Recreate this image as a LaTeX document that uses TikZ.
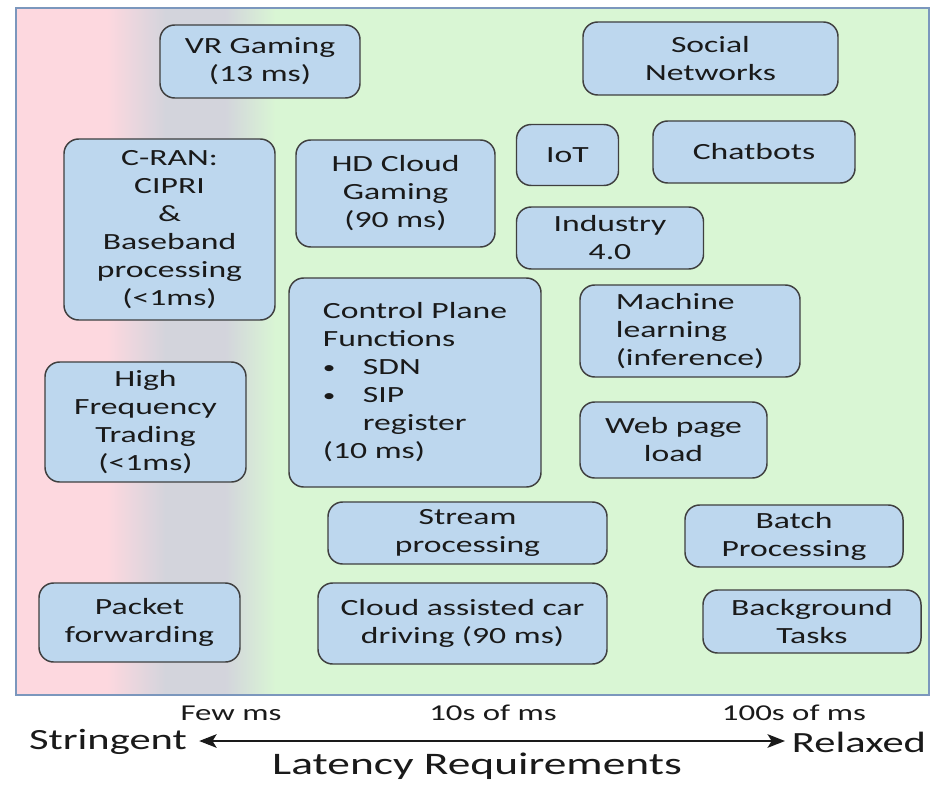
\documentclass[tikz,border=0pt]{standalone}
\usepackage{fontspec}
\setmainfont{Carlito}[FakeStretch=1.45]
\usetikzlibrary{arrows.meta}
\definecolor{pinkbg}{HTML}{FDD8DF}
\definecolor{graybg}{HTML}{D3D4DC}
\definecolor{greenbg}{HTML}{D9F6D4}
\definecolor{boxfill}{HTML}{BDD7EE}
\definecolor{boxline}{HTML}{3F3F3F}
\definecolor{framec}{HTML}{7B97BD}
\definecolor{inkc}{HTML}{1A1A1A}
\newcommand\bulletitem{\makebox[30pt][l]{\raisebox{1pt}{\scalebox{0.75}{•}}}}
\tikzset{
  box/.style={draw=boxline, fill=boxfill, line width=1.1pt, rounded corners=11pt,
    inner sep=0pt, align=center, text=inkc,
    font=\fontsize{17.4}{21}\selectfont},
  sz/.style 2 args={minimum width=#1*0.75pt, minimum height=#2*0.75pt},
  tick/.style={text=inkc, inner sep=0pt, font=\fontsize{17}{20}\selectfont},
  endlabel/.style={text=inkc, inner sep=0pt, font=\fontsize{22}{26}\selectfont},
  axisline/.style={line width=2.2pt, draw=inkc,
    {Stealth[length=13pt,width=10pt,inset=3pt]}-{Stealth[length=13pt,width=10pt,inset=3pt]}}
}
\begin{document}
\begin{tikzpicture}[x=0.75pt,y=-0.75pt]
\useasboundingbox (0,0) rectangle (930,784);
\fill[white] (0,0) rectangle (930,784);

% background bands: stringent (pink) to relaxed (green)
\fill[pinkbg] (16,8) rectangle (108,695);
\shade[left color=pinkbg, right color=graybg] (107,8) rectangle (166,695);
\fill[graybg] (165,8) rectangle (226,695);
\shade[left color=graybg, right color=greenbg] (225,8) rectangle (276,695);
\fill[greenbg] (275,8) rectangle (929,695);
\draw[framec, line width=0.9pt] (16,8) rectangle (929,695);

% applications
\node[box, sz={200}{73}] (vr) at (260,61.5) {VR Gaming\\(13 ms)};
\node[box, sz={255}{73}] (social) at (710.5,58.5) {Social\\Networks};
\node[box, sz={211}{181}] (cran) at (169.5,229.5) {C-RAN:\\CIPRI\\\&\\Baseband\\processing\\(<1ms)};
\node[box, sz={199}{107}] (hd) at (395.5,193.5) {HD Cloud\\Gaming\\(90 ms)};
\node[box, sz={102}{61}] (iot) at (567.5,155) {IoT};
\node[box, sz={202}{62}] (chat) at (754,152) {Chatbots};
\node[box, sz={187}{62}] (ind) at (610,238) {Industry\\4.0};
\node[box, sz={252}{209}, align=left] (ctrl) at (415,382.5)
  {Control Plane\\Functions\\\bulletitem SDN\\\bulletitem SIP\\\hspace*{30pt}register\\(10 ms)};
\node[box, sz={220}{92}, align=left] (ml) at (690,331) {Machine\\learning\\(inference)};
\node[box, sz={201}{120}] (hft) at (145.5,422) {High\\Frequency\\Trading\\(<1ms)};
\node[box, sz={187}{76}] (web) at (673.5,440) {Web page\\load};
\node[box, sz={279}{62}] (stream) at (467.5,533) {Stream\\processing};
\node[box, sz={218}{62}] (batch) at (794,536) {Batch\\Processing};
\node[box, sz={201}{79}] (packet) at (139.5,622.5) {Packet\\forwarding};
\node[box, sz={289}{81}] (car) at (462.5,623.5) {Cloud assisted car\\driving (90 ms)};
\node[box, sz={218}{63}] (bg) at (812,621.5) {Background\\Tasks};

% latency axis
\node[tick] (t1) at (231,713) {Few ms};
\node[tick] (t2) at (493,713) {10s of ms};
\node[tick] (t3) at (794,713) {100s of ms};
\node[endlabel] (strg) at (108,742) {Stringent};
\node[endlabel] (relx) at (859,742) {Relaxed};
\node[endlabel, font=\fontsize{23.5}{28}\selectfont] (lat) at (477,766) {Latency Requirements};
\draw[axisline, shorten <=9pt, shorten >=5pt]
  (strg.east |- 0,741) -- (relx.west |- 0,741);
\end{tikzpicture}
\end{document}
